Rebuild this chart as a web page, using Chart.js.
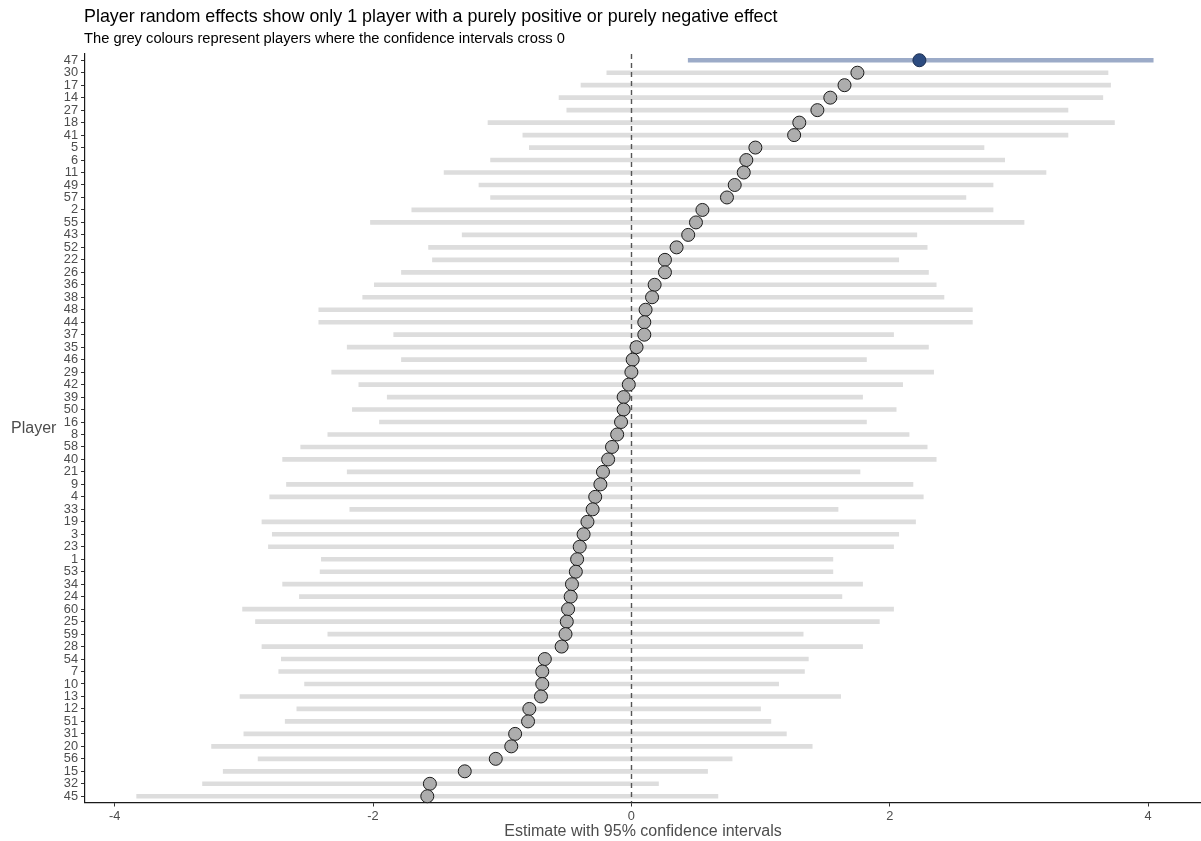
<!DOCTYPE html>
<html>
<head>
<meta charset="utf-8">
<script src="https://cdn.jsdelivr.net/npm/chart.js@4/dist/chart.umd.min.js"></script>
<style>
  body { margin: 0; background: #fff; }
  #wrap { width: 1201px; height: 841px; }
</style>
</head>
<body>
<div id="wrap"><canvas id="chart" width="1201" height="841"></canvas></div>
<script>
const players = ["47", "30", "17", "14", "27", "18", "41", "5", "6", "11", "49", "57", "2", "55", "43",
    "52", "22", "26", "36", "38", "48", "44", "37", "35", "46", "29", "42", "39", "50", "16",
    "8", "58", "40", "21", "9", "4", "33", "19", "3", "23", "1", "53", "34", "24", "60",
    "25", "59", "28", "54", "7", "10", "13", "12", "51", "31", "20", "56", "15", "32", "45"];
const lower = [0.44, -0.19, -0.39, -0.56, -0.50, -1.11, -0.84, -0.79, -1.09, -1.45, -1.18, -1.09, -1.70, -2.02, -1.31,
    -1.57, -1.54, -1.78, -1.99, -2.08, -2.42, -2.42, -1.84, -2.20, -1.78, -2.32, -2.11, -1.89, -2.16, -1.95,
    -2.35, -2.56, -2.70, -2.20, -2.67, -2.80, -2.18, -2.86, -2.78, -2.81, -2.40, -2.41, -2.70, -2.57, -3.01,
    -2.91, -2.35, -2.86, -2.71, -2.73, -2.53, -3.03, -2.59, -2.68, -3.00, -3.25, -2.89, -3.16, -3.32, -3.83];
const estimate = [2.23, 1.75, 1.65, 1.54, 1.44, 1.30, 1.26, 0.96, 0.89, 0.87, 0.80, 0.74, 0.55, 0.50, 0.44,
    0.35, 0.26, 0.26, 0.18, 0.16, 0.11, 0.10, 0.10, 0.04, 0.01, 0.00, -0.02, -0.06, -0.06, -0.08,
    -0.11, -0.15, -0.18, -0.22, -0.24, -0.28, -0.30, -0.34, -0.37, -0.40, -0.42, -0.43, -0.46, -0.47, -0.49,
    -0.50, -0.51, -0.54, -0.67, -0.69, -0.69, -0.70, -0.79, -0.80, -0.90, -0.93, -1.05, -1.29, -1.56, -1.58];
const upper = [4.04, 3.69, 3.71, 3.65, 3.38, 3.74, 3.38, 2.73, 2.89, 3.21, 2.80, 2.59, 2.80, 3.04, 2.21,
    2.29, 2.07, 2.30, 2.36, 2.42, 2.64, 2.64, 2.03, 2.30, 1.82, 2.34, 2.10, 1.79, 2.05, 1.82,
    2.15, 2.29, 2.36, 1.77, 2.18, 2.26, 1.60, 2.20, 2.07, 2.03, 1.56, 1.56, 1.79, 1.63, 2.03,
    1.92, 1.33, 1.79, 1.37, 1.34, 1.14, 1.62, 1.00, 1.08, 1.20, 1.40, 0.78, 0.59, 0.21, 0.67];
const xTicks = [-4, -2, 0, 2, 4];

const titleText = "Player random effects show only 1 player with a purely positive or purely negative effect";
const subtitleText = "The grey colours represent players where the confidence intervals cross 0";
const fontFamily = "'Liberation Sans', Arial, Helvetica, sans-serif";

// does the interval stay on one side of zero?
const oneSided = lower.map((lo, i) => lo > 0 || upper[i] < 0);
const barColours = oneSided.map(s => s ? "#9cabc8" : "#dddddd");
const pointColours = oneSided.map(s => s ? "#2c4b80" : "#adadad");
const pointBorders = oneSided.map(s => s ? "#1c2f52" : "#1a1a1a");

// dashed zero line (over the bars, under the points) + titles
const extras = {
    id: "extras",
    afterDatasetDraw(chart, args) {
        if (args.index !== 0) return;
        const ctx = chart.ctx;
        const x = Math.round(chart.scales.x.getPixelForValue(0)) + 0.5;
        ctx.save();
        ctx.strokeStyle = "#555555";
        ctx.lineWidth = 1.4;
        ctx.setLineDash([5, 4]);
        ctx.beginPath();
        ctx.moveTo(x, chart.chartArea.top);
        ctx.lineTo(x, chart.chartArea.bottom);
        ctx.stroke();
        ctx.restore();
    },
    afterDraw(chart) {
        const ctx = chart.ctx;
        ctx.save();
        ctx.textBaseline = "alphabetic";
        ctx.textAlign = "left";
        ctx.fillStyle = "#000000";
        ctx.font = "17.9px " + fontFamily;
        ctx.fillText(titleText, 84, 22);
        ctx.font = "14.7px " + fontFamily;
        ctx.fillText(subtitleText, 84, 43);
        ctx.fillStyle = "#4d4d4d";
        ctx.font = "16px " + fontFamily;
        ctx.textBaseline = "middle";
        const area = chart.chartArea;
        ctx.fillText("Player", 11, (area.top + area.bottom) / 2);
        ctx.restore();
    }
};

new Chart(document.getElementById("chart"), {
    data: {
        labels: players,
        datasets: [
            {
                type: "bar",
                data: lower.map((lo, i) => [lo, upper[i]]),
                backgroundColor: barColours,
                barThickness: 4,
                borderWidth: 0,
                order: 2
            },
            {
                type: "line",
                data: estimate,
                showLine: false,
                pointRadius: 6.5,
                pointBorderWidth: 1,
                pointBackgroundColor: pointColours,
                pointBorderColor: pointBorders,
                order: 1
            }
        ]
    },
    options: {
        indexAxis: "y",
        responsive: false,
        animation: false,
        devicePixelRatio: 1,
        layout: { autoPadding: false, padding: { top: 54, left: 0, right: 0, bottom: 0 } },
        plugins: {
            legend: { display: false },
            tooltip: { enabled: false }
        },
        scales: {
            x: {
                type: "linear",
                min: -4.23,
                max: 4.41,
                afterBuildTicks: scale => { scale.ticks = xTicks.map(v => ({ value: v })); },
                afterFit: scale => { scale.height = 38.5; },
                grid: { display: true, drawOnChartArea: false, drawTicks: true, tickLength: 4, color: "#333333" },
                border: { display: true, color: "#1a1a1a", width: 1.2 },
                ticks: { color: "#4d4d4d", font: { family: fontFamily, size: 12.8 }, padding: 2, maxRotation: 0 },
                title: {
                    display: true,
                    text: "Estimate with 95% confidence intervals",
                    color: "#4d4d4d",
                    font: { family: fontFamily, size: 16 },
                    padding: { top: 0, bottom: 0 }
                }
            },
            y: {
                type: "category",
                offset: true,
                afterFit: scale => { scale.width = 85; },
                grid: { display: true, offset: false, drawOnChartArea: false, drawTicks: true, tickLength: 4, color: "#333333" },
                border: { display: true, color: "#1a1a1a", width: 1.2 },
                ticks: { color: "#4d4d4d", font: { family: fontFamily, size: 12.8 }, padding: 3, autoSkip: false }
            }
        }
    },
    plugins: [extras]
});
</script>
</body>
</html>
